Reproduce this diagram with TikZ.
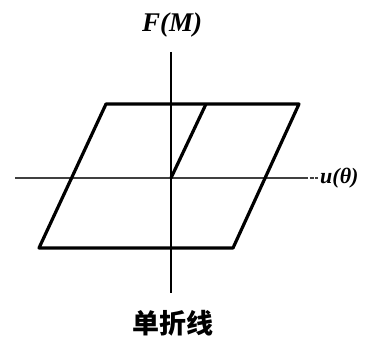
\documentclass[tikz,border=0pt]{standalone}
\usepackage{fontspec}
\setmainfont{Liberation Serif}
\newfontfamily\cjk{Noto Sans CJK SC}
\usetikzlibrary{positioning}

\begin{document}
\begin{tikzpicture}[x=1pt, y=-1pt,
      axis/.style={line width=1.5pt},
      loopline/.style={line width=3.2pt, line join=round},
      lbl/.style={inner sep=0pt, font=\bfseries\itshape}]
    \useasboundingbox (0,0) rectangle (366,344);
    % axes
    \coordinate (o) at (171,178);
    \coordinate (xl) at (15,178);
    \coordinate (xm) at (304,178);
    \coordinate (xr) at (318,178);
    \coordinate (yt) at (171,52);
    \coordinate (yb) at (171,293);
    \draw[axis, black!75, line width=1.1pt] (xl) -- (xm);
    \draw[axis, black!75, line width=1.1pt, dash pattern=on 4pt off 1.5pt] (xm) -- (xr);
    \draw[axis] (yt) -- (yb);
    % hysteresis loop
    \coordinate (tl) at (106,104);
    \coordinate (tr) at (299,104);
    \coordinate (br) at (233,248);
    \coordinate (bl) at (39,248);
    \coordinate (tm) at (206,104);
    \draw[loopline] (tl) -- (tr) -- (br) -- (bl) -- cycle;
    \draw[loopline] (o) -- (tm);
    % labels
    \node[lbl, font=\fontsize{27}{30}\selectfont\bfseries\itshape] (fm) at (172,25) {F(M)};
    \node[lbl, font=\fontsize{22}{25}\selectfont\bfseries\itshape, anchor=west] (ut) at (320,178) {u(θ)};
    \node[inner sep=0pt, font=\fontsize{27}{30}\selectfont\cjk\bfseries] (cap) at (173,323) {单折线};
  \end{tikzpicture}
\end{document}
